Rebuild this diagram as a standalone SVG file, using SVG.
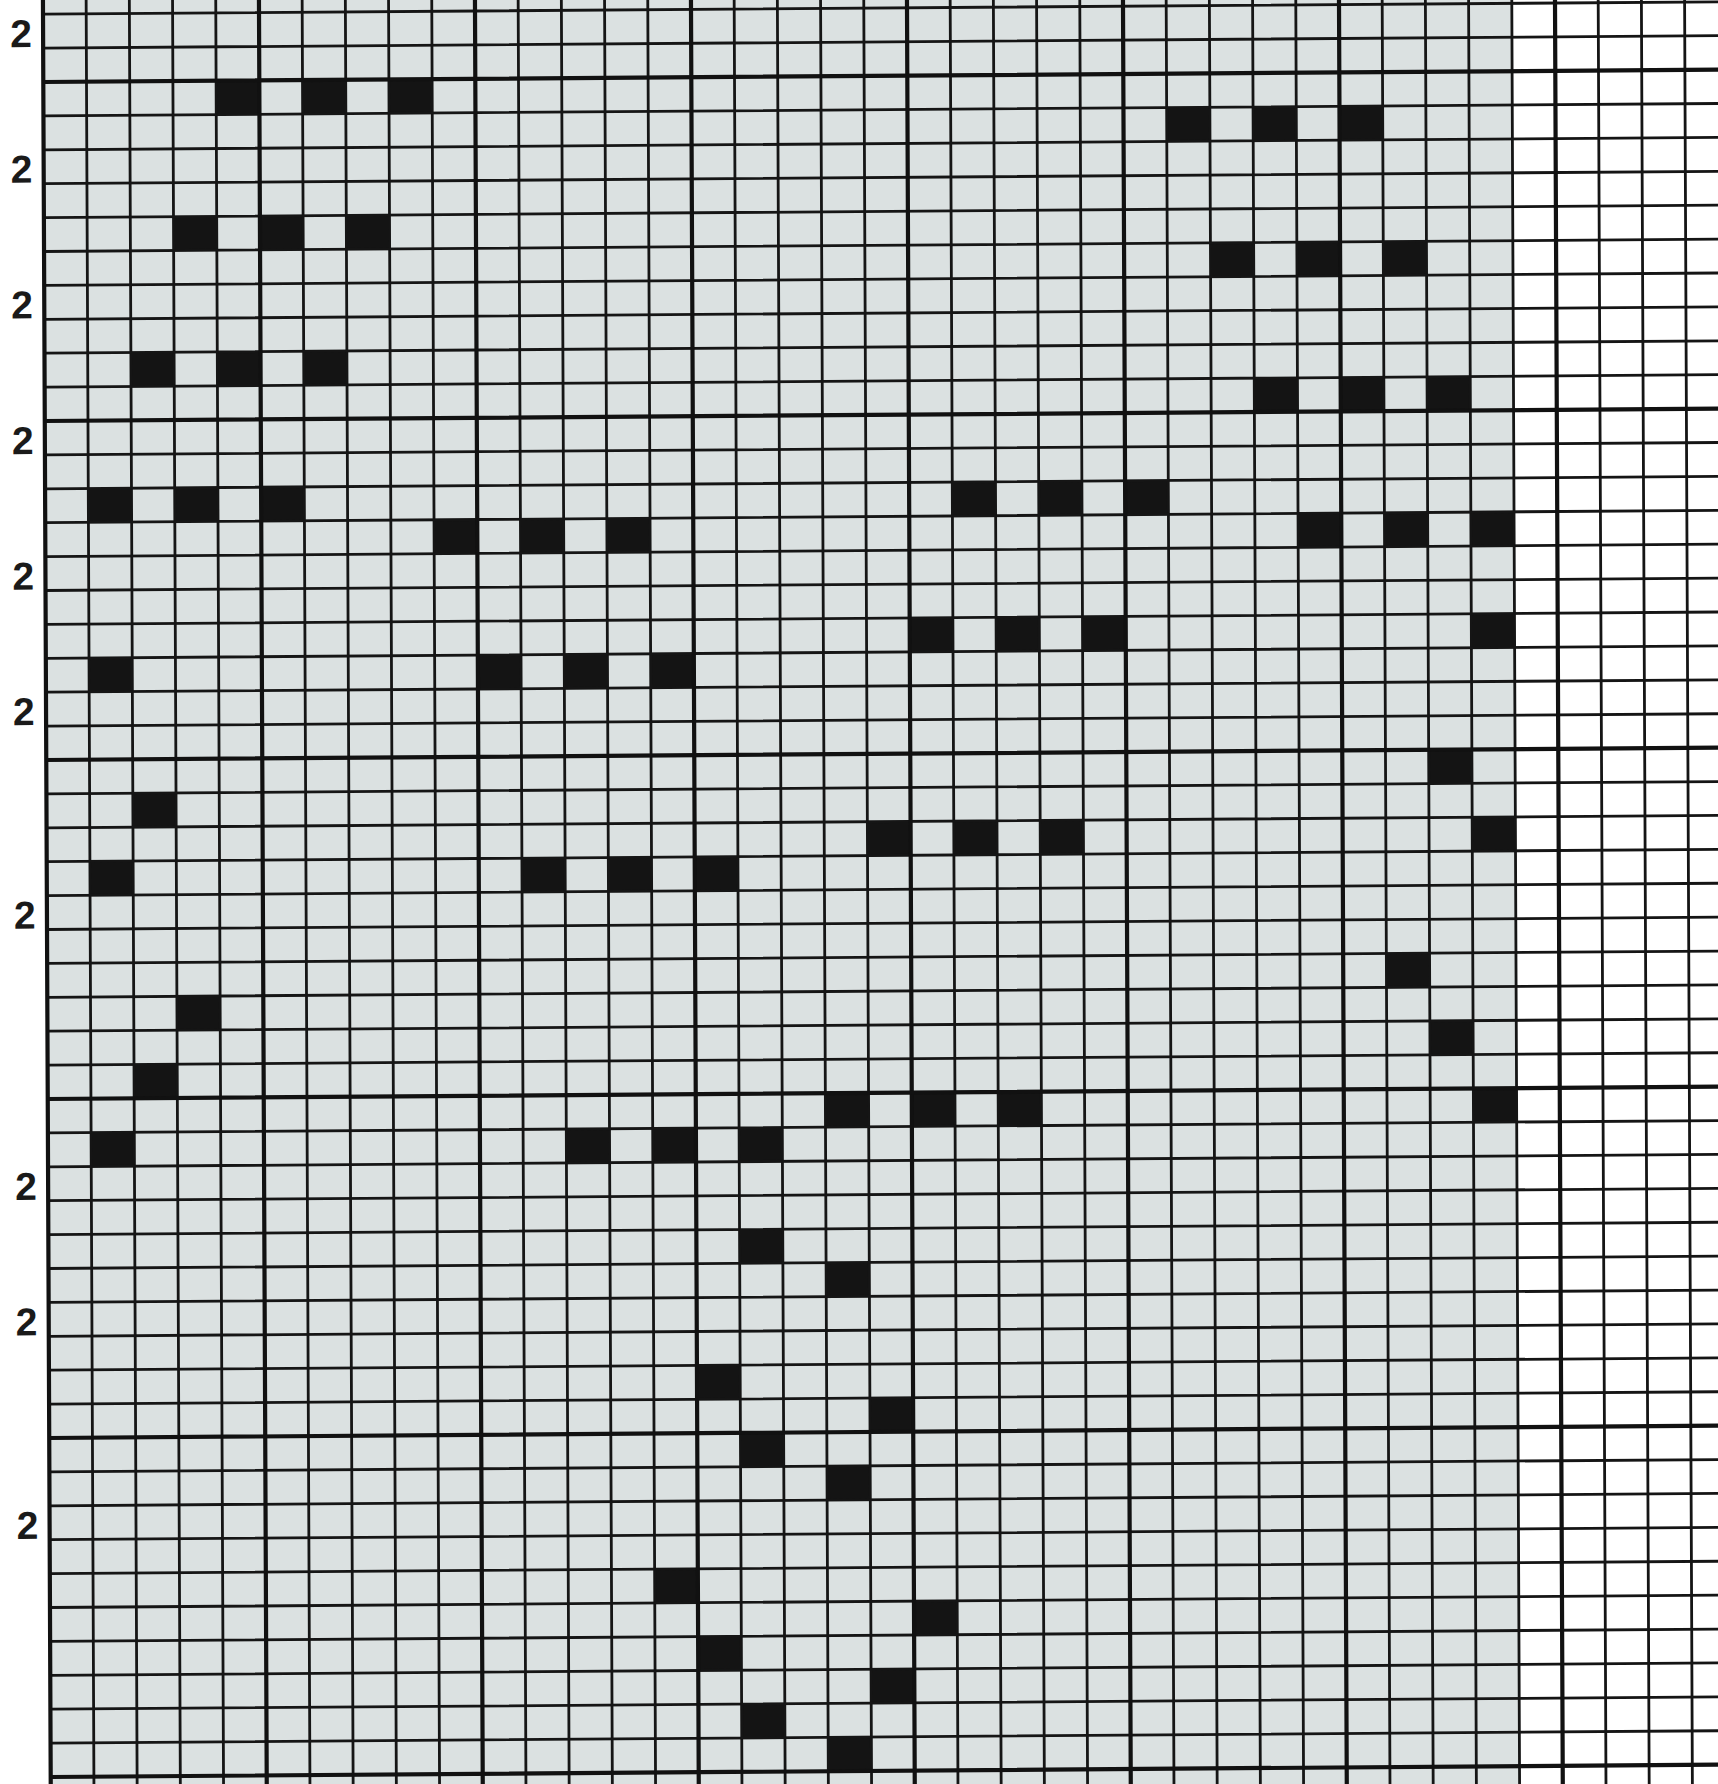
<svg xmlns="http://www.w3.org/2000/svg" width="1718" height="1784" viewBox="0 0 1718 1784">
<style>
.bg{fill:#dbe1e1}
.b{fill:#141414}
.thin{stroke:#151515;stroke-width:2.8;fill:none}
.major{stroke:#111;stroke-width:4.2;fill:none}
.lbl{font-family:"Liberation Sans",Arial,sans-serif;font-weight:bold;font-size:39px;fill:#1a1a1a}
</style>
<defs>
<rect id="c" width="43.2" height="33.9"/>
</defs>
<rect x="0" y="0" width="1718" height="1784" fill="#ffffff"/>
<g id="grid" transform="matrix(1 -0.0074 0.00437 1 43.3 82)">
<rect class="bg" x="0" y="-110" width="1468.8" height="1850"/>
<g id="cells" class="b">
<use href="#c" x="172.8" y="0"/><use href="#c" x="259.2" y="0"/><use href="#c" x="345.6" y="0"/>
<use href="#c" x="1123.2" y="33.9"/><use href="#c" x="1209.6" y="33.9"/><use href="#c" x="1296" y="33.9"/>
<use href="#c" x="129.6" y="135.6"/><use href="#c" x="216" y="135.6"/><use href="#c" x="302.4" y="135.6"/>
<use href="#c" x="1166.4" y="169.5"/><use href="#c" x="1252.8" y="169.5"/><use href="#c" x="1339.2" y="169.5"/>
<use href="#c" x="86.4" y="271.2"/><use href="#c" x="172.8" y="271.2"/><use href="#c" x="259.2" y="271.2"/>
<use href="#c" x="1209.6" y="305.1"/><use href="#c" x="1296" y="305.1"/><use href="#c" x="1382.4" y="305.1"/>
<use href="#c" x="43.2" y="406.8"/><use href="#c" x="129.6" y="406.8"/><use href="#c" x="216" y="406.8"/>
<use href="#c" x="907.2" y="406.8"/><use href="#c" x="993.6" y="406.8"/><use href="#c" x="1080" y="406.8"/>
<use href="#c" x="388.8" y="440.7"/><use href="#c" x="475.2" y="440.7"/><use href="#c" x="561.6" y="440.7"/>
<use href="#c" x="1252.8" y="440.7"/><use href="#c" x="1339.2" y="440.7"/><use href="#c" x="1425.6" y="440.7"/>
<use href="#c" x="864" y="542.4"/><use href="#c" x="950.4" y="542.4"/><use href="#c" x="1036.8" y="542.4"/><use href="#c" x="1425.6" y="542.4"/>
<use href="#c" x="43.2" y="576.3"/><use href="#c" x="432" y="576.3"/><use href="#c" x="518.4" y="576.3"/><use href="#c" x="604.8" y="576.3"/>
<use href="#c" x="1382.4" y="678"/>
<use href="#c" x="86.4" y="711.9"/>
<use href="#c" x="820.8" y="745.8"/><use href="#c" x="907.2" y="745.8"/><use href="#c" x="993.6" y="745.8"/><use href="#c" x="1425.6" y="745.8"/>
<use href="#c" x="43.2" y="779.7"/><use href="#c" x="475.2" y="779.7"/><use href="#c" x="561.6" y="779.7"/><use href="#c" x="648" y="779.7"/>
<use href="#c" x="1339.2" y="881.4"/>
<use href="#c" x="129.6" y="915.3"/>
<use href="#c" x="1382.4" y="949.2"/>
<use href="#c" x="86.4" y="983.1"/>
<use href="#c" x="777.6" y="1017"/><use href="#c" x="864" y="1017"/><use href="#c" x="950.4" y="1017"/><use href="#c" x="1425.6" y="1017"/>
<use href="#c" x="43.2" y="1050.9"/><use href="#c" x="518.4" y="1050.9"/><use href="#c" x="604.8" y="1050.9"/><use href="#c" x="691.2" y="1050.9"/>
<use href="#c" x="691.2" y="1152.6"/>
<use href="#c" x="777.6" y="1186.5"/>
<use href="#c" x="648" y="1288.2"/>
<use href="#c" x="820.8" y="1322.1"/>
<use href="#c" x="691.2" y="1356"/>
<use href="#c" x="777.6" y="1389.9"/>
<use href="#c" x="604.8" y="1491.6"/>
<use href="#c" x="864" y="1525.5"/>
<use href="#c" x="648" y="1559.4"/>
<use href="#c" x="820.8" y="1593.3"/>
<use href="#c" x="691.2" y="1627.2"/>
<use href="#c" x="777.6" y="1661.1"/>
</g>
<path class="thin" d="M43.2 -110V1740M86.4 -110V1740M129.6 -110V1740M172.8 -110V1740M259.2 -110V1740M302.4 -110V1740M345.6 -110V1740M388.8 -110V1740M475.2 -110V1740M518.4 -110V1740M561.6 -110V1740M604.8 -110V1740M691.2 -110V1740M734.4 -110V1740M777.6 -110V1740M820.8 -110V1740M907.2 -110V1740M950.4 -110V1740M993.6 -110V1740M1036.8 -110V1740M1123.2 -110V1740M1166.4 -110V1740M1209.6 -110V1740M1252.8 -110V1740M1339.2 -110V1740M1382.4 -110V1740M1425.6 -110V1740M1468.8 -110V1740M1555.2 -110V1740M1598.4 -110V1740M1641.6 -110V1740M1684.8 -110V1740"/>
<path class="thin" d="M0 -101.7H1740M0 -67.8H1740M0 -33.9H1740M0 33.9H1740M0 67.8H1740M0 101.7H1740M0 135.6H1740M0 169.5H1740M0 203.4H1740M0 237.3H1740M0 271.2H1740M0 305.1H1740M0 372.9H1740M0 406.8H1740M0 440.7H1740M0 474.6H1740M0 508.5H1740M0 542.4H1740M0 576.3H1740M0 610.2H1740M0 644.1H1740M0 711.9H1740M0 745.8H1740M0 779.7H1740M0 813.6H1740M0 847.5H1740M0 881.4H1740M0 915.3H1740M0 949.2H1740M0 983.1H1740M0 1050.9H1740M0 1084.8H1740M0 1118.7H1740M0 1152.6H1740M0 1186.5H1740M0 1220.4H1740M0 1254.3H1740M0 1288.2H1740M0 1322.1H1740M0 1389.9H1740M0 1423.8H1740M0 1457.7H1740M0 1491.6H1740M0 1525.5H1740M0 1559.4H1740M0 1593.3H1740M0 1627.2H1740M0 1661.1H1740M0 1728.9H1740"/>
<path class="major" d="M0 -110V1740M216 -110V1740M432 -110V1740M648 -110V1740M864 -110V1740M1080 -110V1740M1296 -110V1740M1512 -110V1740M1728 -110V1740"/>
<path class="major" d="M0 0H1740M0 339H1740M0 678H1740M0 1017H1740M0 1356H1740M0 1695H1740"/>
<g id="labels" class="lbl">
<text x="-33" y="-35">2</text>
<text x="-33" y="100.6">2</text>
<text x="-33" y="236.3">2</text>
<text x="-33" y="372">2</text>
<text x="-33" y="507.5">2</text>
<text x="-33" y="643.1">2</text>
<text x="-33" y="846.5">2</text>
<text x="-33" y="1117.7">2</text>
<text x="-33" y="1253.3">2</text>
<text x="-33" y="1456.7">2</text>
</g>
</g>
</svg>
